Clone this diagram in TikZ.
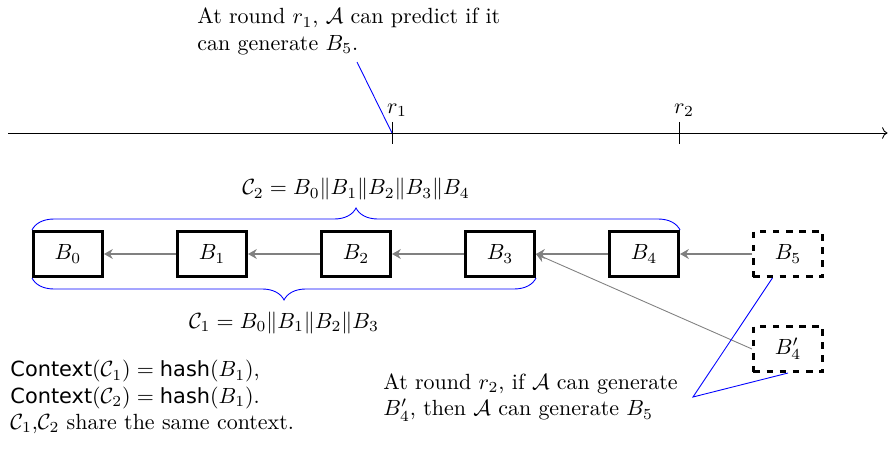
\documentclass[tikz,border=0pt]{standalone}
\usepackage{fontspec}
\newfontfamily\opfont[Scale=0.95]{DejaVu Sans}
\newcommand{\opname}[1]{\mbox{\opfont #1}}
\usetikzlibrary{positioning,decorations.pathreplacing,arrows.meta}

\begin{document}
\begin{tikzpicture}[
  node distance=1.152cm,
  block/.style={draw, very thick, minimum width=1.11cm, minimum height=0.726cm, inner sep=0pt},
  ghost/.style={block, dashed},
  link/.style={draw, semithick, gray, -{Stealth[length=4pt,width=4.5pt]}},
  note/.style={blue},
  chainbrace/.style={draw=blue, decorate, decoration={brace, amplitude=10pt}},
  remark/.style={align=left, inner sep=0pt}
]
  \useasboundingbox (0,0) rectangle (14.208,7.168);

  % time line
  \coordinate (t0) at (0.128,5.04);
  \coordinate (t1) at (14.2,5.04);
  \coordinate (r1) at (6.272,5.04);
  \coordinate (r2) at (10.864,5.04);
  \draw[->] (t0) -- (t1);
  \draw (r1) +(0,0.18) coordinate (r1top) -- +(0,-0.18);
  \draw (r2) +(0,0.18) coordinate (r2top) -- +(0,-0.18);
  \node[above=0pt of r1top, inner sep=2pt, xshift=0.08cm] (r1lbl) {$r_1$};
  \node[above=0pt of r2top, inner sep=2pt, xshift=0.08cm] (r2lbl) {$r_2$};

  \node[remark, anchor=west] (pred) at (3.152,6.664) {At round $r_1$, $\mathcal{A}$ can predict if it\\ can generate $B_5$.};
  \coordinate (p1) at (5.712,6.176);
  \draw[note] (p1) -- (r1);

  % the chain
  \node[block] (b0) at (1.088,3.104) {$B_0$};
  \node[block, right=of b0] (b1) {$B_1$};
  \node[block, right=of b1] (b2) {$B_2$};
  \node[block, right=of b2] (b3) {$B_3$};
  \node[block, right=of b3] (b4) {$B_4$};
  \node[ghost, right=of b4] (b5) {$B_5$};
  \node[ghost, below=0.752cm of b5] (b4x) {$B'_4$};

  \foreach \a/\b in {b1/b0, b2/b1, b3/b2, b4/b3, b5/b4}
    \draw[link] (\a) -- (\b);
  \draw[link, thin] (b4x.west) -- (b3.east);

  \draw[chainbrace] (b0.north west) -- (b4.north east)
    node[midway, above=10pt] (c2lbl) {$\mathcal{C}_2 = B_0\|B_1\|B_2\|B_3\|B_4$};
  \draw[chainbrace] (b3.south east) -- (b0.south west)
    node[midway, below=12pt] (c1lbl) {$\mathcal{C}_1 = B_0\|B_1\|B_2\|B_3$};

  % notes at the bottom
  \node[remark, anchor=west] (ctx) at (0.16,0.816) {$\opname{Context}(\mathcal{C}_1) = \opname{hash}(B_1)$,\\ $\opname{Context}(\mathcal{C}_2) = \opname{hash}(B_1)$.\\ $\mathcal{C}_1$,$\mathcal{C}_2$ share the same context.};
  \node[remark, anchor=west] (gen) at (6.128,0.808) {At round $r_2$, if $\mathcal{A}$ can generate\\ $B'_4$, then $\mathcal{A}$ can generate $B_5$};
  \coordinate (p2) at (11.088,0.816);
  \draw[note] ([xshift=-0.25cm]b5.south) -- (p2) -- (b4x.south);
\end{tikzpicture}
\end{document}
